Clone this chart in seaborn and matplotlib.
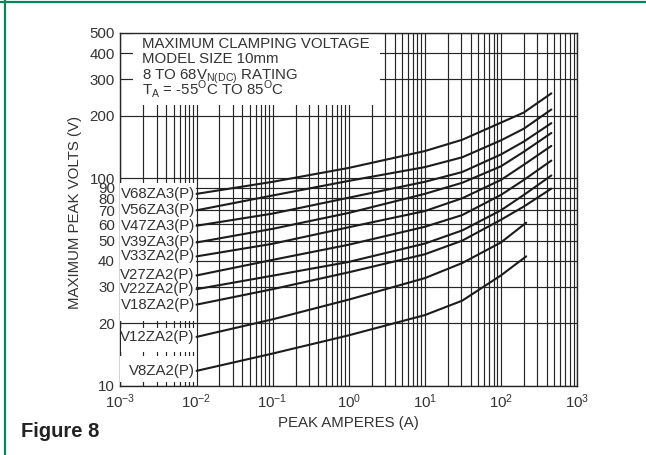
import pandas as pd
import seaborn as sns
import matplotlib.pyplot as plt
from matplotlib.patches import Rectangle
from matplotlib.lines import Line2D
from matplotlib.ticker import LogLocator, NullFormatter

# peak current (A) where each curve was read
amps_hi = [0.01, 0.1, 1, 10, 31, 100, 200, 460]
amps_lo = [0.01, 0.1, 1, 10, 31, 100, 215]

# maximum peak volts
v68 = [84, 96, 112, 135, 153, 185, 207, 256]
v56 = [70, 82.5, 97, 113, 126, 152, 173, 214]
v47 = [59, 67.5, 80.5, 96, 107, 130, 150, 184]
v39 = [49, 57, 68, 84, 95, 114, 134, 165]
v33 = [42, 48.3, 58, 69.4, 80, 98, 116, 143]
v27 = [34, 40.4, 47.8, 58.3, 66.4, 83, 98, 121.5]
v22 = [29.2, 33.9, 39.5, 48.4, 56, 70, 83, 103]
v18 = [24.6, 29.2, 35.2, 43, 50, 63, 73, 89]
v12 = [17.2, 20.9, 26, 33, 39, 49, 61]
v8 = [11.8, 14.3, 17.5, 21.9, 25.7, 34, 42]

models = ["V68ZA3(P)", "V56ZA3(P)", "V47ZA3(P)", "V39ZA3(P)", "V33ZA2(P)",
          "V27ZA2(P)", "V22ZA2(P)", "V18ZA2(P)", "V12ZA2(P)", "V8ZA2(P)"]
volts = [v68, v56, v47, v39, v33, v27, v22, v18, v12, v8]

y_ticks = [10, 20, 30, 40, 50, 60, 70, 80, 90, 100, 200, 300, 400, 500]
x_ticks = [1e-3, 1e-2, 1e-1, 1, 10, 100, 1000]
x_labels = [r"$\mathregular{10^{%d}}$" % e for e in range(-3, 4)]

rows = []
for name, vs in zip(models, volts):
    xs = amps_hi if len(vs) == len(amps_hi) else amps_lo
    for a, v in zip(xs, vs):
        rows.append({"model": name, "amps": a, "volts": v})
df = pd.DataFrame(rows)

sns.set_style("white")
plt.rcParams["font.family"] = ["Liberation Sans", "DejaVu Sans"]

fig = plt.figure(figsize=(6.46, 4.55), dpi=100)
ax = fig.add_axes([0.1865, 0.1521, 0.7067, 0.7754])
ax.set_xscale("log")
ax.set_yscale("log")

ink = "#1c1c1c"
sns.lineplot(data=df, x="amps", y="volts", hue="model",
             palette={m: ink for m in models}, estimator=None,
             legend=False, linewidth=1.5, zorder=3, ax=ax)

ax.set_xlim(1e-3, 1e3)
ax.set_ylim(10, 500)
ax.set_xticks(x_ticks)
ax.set_xticklabels(x_labels)
ax.xaxis.set_minor_locator(LogLocator(base=10, subs=range(2, 10), numticks=20))
ax.xaxis.set_minor_formatter(NullFormatter())
ax.set_yticks(y_ticks)
ax.set_yticklabels([str(t) for t in y_ticks])
ax.yaxis.set_minor_locator(plt.NullLocator())
ax.grid(True, which="both", color="#262626", linewidth=0.85)
ax.tick_params(which="both", length=0, labelsize=10.8, colors="#333333")
ax.tick_params(axis="y", pad=4)
ax.tick_params(axis="x", pad=5)
for s in ax.spines.values():
    s.set_color("#262626")
    s.set_linewidth(1.0)

ax.set_xlabel("PEAK AMPERES (A)", fontsize=10.8, color="#333333")
ax.set_ylabel("MAXIMUM PEAK VOLTS (V)", fontsize=10.8, color="#333333")
ax.xaxis.set_label_coords(0.5, -0.087)
ax.yaxis.set_label_coords(-0.084, 0.49)

# white areas that hide the grid behind the notes and labels
ax.add_patch(Rectangle((1.47e-3, 224), 2.57 - 1.47e-3, 290, facecolor="white",
                       edgecolor="none", zorder=1))
ax.add_patch(Rectangle((1e-3, 20.4), 0.0098 - 1e-3, 94.6 - 20.4, facecolor="white",
                       edgecolor="none", zorder=2.6))
ax.add_patch(Rectangle((1.03e-3, 14.5), 0.0098 - 1.03e-3, 19.0 - 14.5,
                       facecolor="white", edgecolor="none", zorder=2.6))
ax.add_patch(Rectangle((1e-3, 10.47), 0.0098 - 1e-3, 13.9 - 10.47, facecolor="white",
                       edgecolor="none", zorder=2.6))

for name, vs in zip(models, volts):
    ax.text(0.0095, vs[0], name, ha="right", va="center", fontsize=10.8,
            color="#333333", zorder=5)

notes = ["MAXIMUM CLAMPING VOLTAGE",
         "MODEL SIZE 10mm",
         r"8 TO 68V$_{\mathregular{N(DC)}}$ RATING",
         r"T$_{\mathregular{A}}$ = -55$^{\mathregular{O}}$C TO 85$^{\mathregular{O}}$C"]
for i, line in enumerate(notes):
    ax.text(0.0464, 0.9583 - 0.0442 * i, line, transform=ax.transAxes,
            ha="left", va="baseline", fontsize=10.8, color="#333333", zorder=5)

fig.text(0.032, 0.040, "Figure 8", fontsize=14.5, fontweight="bold",
         color="#222222", ha="left", va="baseline")

green = "#00875a"
fig.add_artist(Line2D([0, 1], [0.995, 0.995], transform=fig.transFigure,
                      color=green, linewidth=1.6))
fig.add_artist(Line2D([0.0073, 0.0073], [0, 1], transform=fig.transFigure,
                      color=green, linewidth=1.6))

fig.savefig("out.png", dpi=100)
